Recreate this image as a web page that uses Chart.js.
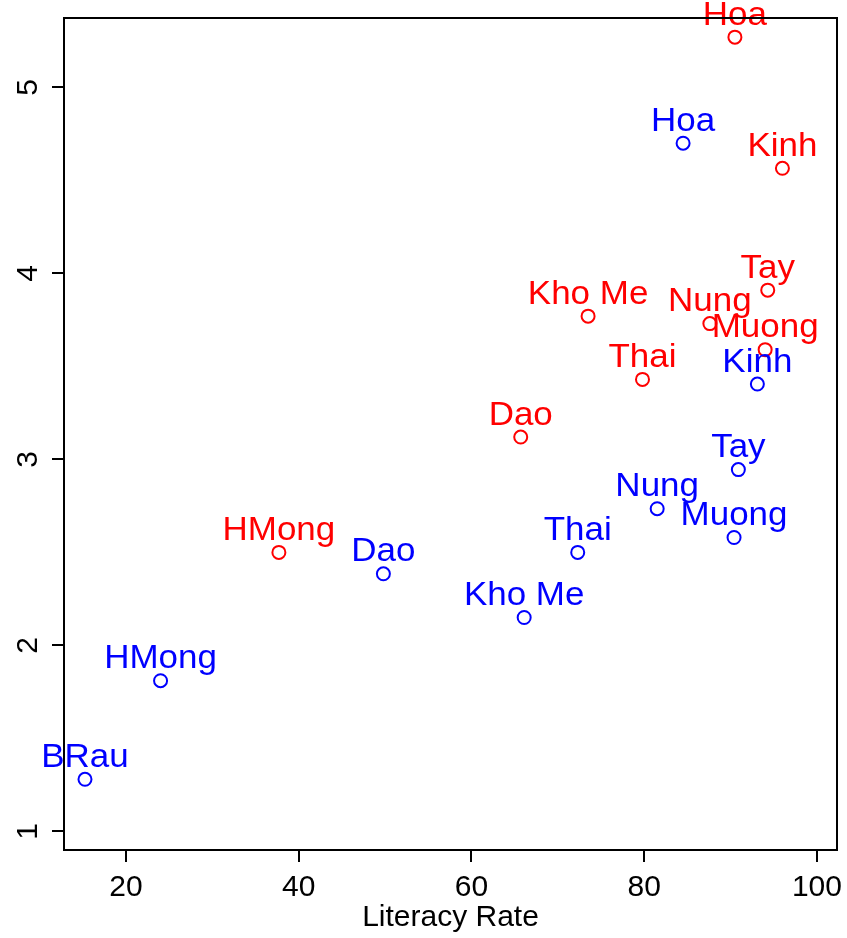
<!DOCTYPE html>
<html>
<head>
<meta charset="utf-8">
<script src="https://cdn.jsdelivr.net/npm/chart.js@4.4.0/dist/chart.umd.min.js"></script>
<style>
  body { margin: 0; background: #fff; }
  #wrap { width: 847px; height: 938px; }
</style>
</head>
<body>
<div id="wrap"><canvas id="plot" width="847" height="938"></canvas></div>
<script>
// blue group (earlier survey)
const blueNames = ['BRau', 'HMong', 'Dao', 'Kho Me', 'Thai', 'Nung', 'Muong', 'Tay', 'Kinh', 'Hoa'];
const blueLiteracy = [15.25, 24.0, 49.8, 66.1, 72.3, 81.5, 90.4, 90.9, 93.1, 84.5];
const blueValues = [1.28, 1.81, 2.385, 2.15, 2.50, 2.735, 2.58, 2.945, 3.405, 4.70];

// red group (later survey)
const redNames = ['HMong', 'Dao', 'Kho Me', 'Thai', 'Nung', 'Muong', 'Tay', 'Kinh', 'Hoa'];
const redLiteracy = [37.7, 65.7, 73.5, 79.8, 87.6, 94.0, 94.3, 96.0, 90.5];
const redValues = [2.50, 3.12, 3.77, 3.43, 3.73, 3.59, 3.91, 4.565, 5.27];

const xTicks = [20, 40, 60, 80, 100];
const yTicks = [1, 2, 3, 4, 5];

const FONT = '"Liberation Sans", Arial, Helvetica, sans-serif';

function toPoints(xs, ys) {
  return xs.map((x, i) => ({ x: x, y: ys[i] }));
}

// box around the plot, rotated y labels, point names
const rPlotStuff = {
  id: 'rPlotStuff',
  afterDatasetsDraw(chart) {
    const ctx = chart.ctx;
    ctx.save();
    ctx.font = '33px ' + FONT;
    ctx.textAlign = 'center';
    ctx.textBaseline = 'alphabetic';
    chart.data.datasets.forEach((ds, di) => {
      const meta = chart.getDatasetMeta(di);
      ctx.fillStyle = ds.borderColor;
      meta.data.forEach((pt, i) => {
        // R output is a bit wider than tall, stretch the names a little
        ctx.save();
        ctx.translate(pt.x, pt.y - 12.5);
        ctx.scale(1.06, 1);
        ctx.fillText(ds.names[i], 0, 0);
        ctx.restore();
      });
    });
    ctx.restore();
  },
  afterDraw(chart) {
    const ctx = chart.ctx;
    const a = chart.chartArea;
    ctx.save();
    ctx.strokeStyle = '#000';
    ctx.lineWidth = 2;
    ctx.strokeRect(a.left, a.top, a.right - a.left, a.bottom - a.top);

    const ys = chart.scales.y;
    ctx.fillStyle = '#000';
    ctx.font = '30px ' + FONT;
    ctx.textAlign = 'center';
    ctx.textBaseline = 'alphabetic';
    yTicks.forEach(v => {
      ctx.save();
      ctx.translate(37, ys.getPixelForValue(v));
      ctx.rotate(-Math.PI / 2);
      ctx.fillText(String(v), 0, 0);
      ctx.restore();
    });
    ctx.restore();
  }
};

new Chart(document.getElementById('plot'), {
  type: 'scatter',
  data: {
    datasets: [
      {
        label: 'blue',
        names: blueNames,
        data: toPoints(blueLiteracy, blueValues),
        borderColor: '#0000FF',
        backgroundColor: 'rgba(0,0,0,0)',
        borderWidth: 2,
        pointRadius: 6.5,
        pointHoverRadius: 6.5
      },
      {
        label: 'red',
        names: redNames,
        data: toPoints(redLiteracy, redValues),
        borderColor: '#FF0000',
        backgroundColor: 'rgba(0,0,0,0)',
        borderWidth: 2,
        pointRadius: 6.5,
        pointHoverRadius: 6.5
      }
    ]
  },
  options: {
    responsive: false,
    animation: false,
    events: [],
    layout: { padding: { top: 18, right: 10, left: 0, bottom: 0 } },
    plugins: {
      legend: { display: false },
      tooltip: { enabled: false }
    },
    scales: {
      x: {
        type: 'linear',
        min: 12.82,
        max: 102.32,
        afterBuildTicks: s => { s.ticks = xTicks.map(v => ({ value: v })); },
        afterFit: s => {
          s.height = 88;
          s.paddingLeft = 0;
          s.paddingRight = 0;
        },
        grid: {
          drawOnChartArea: false,
          drawTicks: true,
          tickLength: 12,
          color: '#000',
          lineWidth: 2
        },
        border: { display: false },
        ticks: {
          color: '#000',
          font: { family: FONT, size: 30 },
          padding: 8,
          maxRotation: 0,
          autoSkip: false
        },
        title: {
          display: true,
          text: 'Literacy Rate',
          color: '#000',
          font: { family: FONT, size: 30 },
          padding: { top: 0, bottom: 2 }
        }
      },
      y: {
        type: 'linear',
        min: 0.90,
        max: 5.373,
        afterBuildTicks: s => { s.ticks = yTicks.map(v => ({ value: v })); },
        afterFit: s => {
          s.width = 64;
          s.paddingTop = 0;
          s.paddingBottom = 0;
        },
        grid: {
          drawOnChartArea: false,
          drawTicks: true,
          tickLength: 12,
          color: '#000',
          lineWidth: 2
        },
        border: { display: false },
        ticks: { display: false }
      }
    }
  },
  plugins: [rPlotStuff]
});
</script>
</body>
</html>
